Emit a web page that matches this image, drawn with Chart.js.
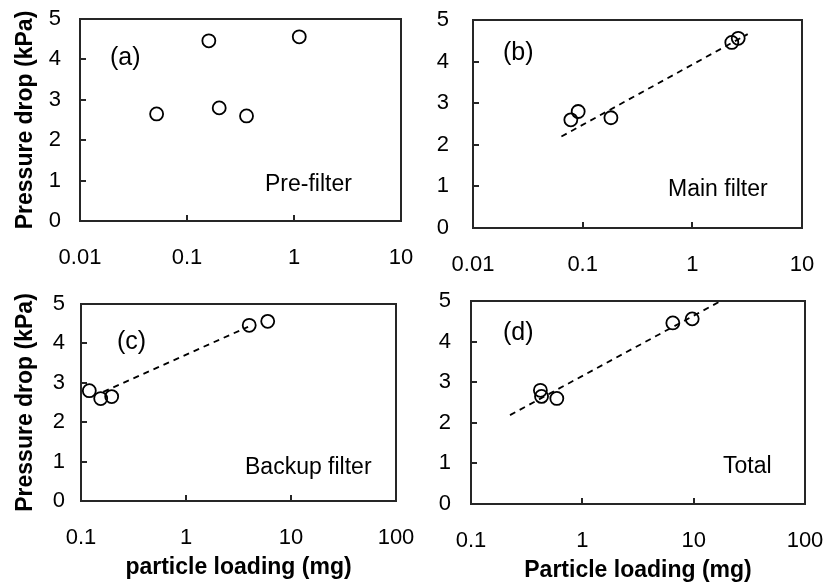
<!DOCTYPE html>
<html>
<head>
<meta charset="utf-8">
<script src="https://cdn.jsdelivr.net/npm/chart.js@4/dist/chart.umd.min.js"></script>
<style>
  html, body { margin: 0; background: #fff; }
  #wrap { position: relative; width: 825px; height: 585px; }
  #wrap canvas { position: absolute; left: 0; top: 0; }
</style>
</head>
<body>
<div id="wrap">
  <canvas id="panelA" width="825" height="585"></canvas>
  <canvas id="panelB" width="825" height="585"></canvas>
  <canvas id="panelC" width="825" height="585"></canvas>
  <canvas id="panelD" width="825" height="585"></canvas>
</div>
<script>
// Five runs, same order in every list
const pressureDrop = [2.65, 2.8, 2.6, 4.46, 4.56];      // kPa
const preLoading = [0.052, 0.2, 0.36, 0.16, 1.12];       // mg
const mainLoading = [0.181, 0.091, 0.078, 2.29, 2.62];
const backupLoading = [0.196, 0.12, 0.154, 4.0, 6.0];
const totalLoading = [0.43, 0.42, 0.59, 6.5, 9.7];

// Fitted trend lines (end points)
const mainFitLoading = [0.064, 3.2];
const mainFitPressure = [2.2, 4.66];
const backupFitLoading = [0.163, 3.9];
const backupFitPressure = [2.77, 4.42];
const totalFitLoading = [0.224, 17];
const totalFitPressure = [2.19, 4.98];

// Axis ticks
const pressureTicks = [0, 1, 2, 3, 4, 5];
const loadingTicksUpper = [0.01, 0.1, 1, 10];
const loadingTicksLower = [0.1, 1, 10, 100];

const FONT = "'Liberation Sans', Arial, sans-serif";
const W = 825, H = 585;

function pairs(xs, ys) {
  return xs.map((x, i) => ({ x: x, y: ys[i] }));
}

// labels may hang over the plot edges, so drop the extra room chart.js asks for
function noPadding(s) {
  s.paddingLeft = 0;
  s.paddingRight = 0;
  s.paddingTop = 0;
  s.paddingBottom = 0;
}

// box round the plot area plus the short ticks pointing inwards
const framePlugin = {
  id: "frame",
  afterDraw(chart) {
    const { ctx, chartArea: a, scales } = chart;
    ctx.save();
    ctx.strokeStyle = "#262626";
    ctx.lineWidth = 2;
    ctx.beginPath();
    scales.x.ticks.forEach(t => {
      const px = Math.round(scales.x.getPixelForValue(t.value));
      ctx.moveTo(px, a.bottom);
      ctx.lineTo(px, a.bottom - 6);
    });
    scales.y.ticks.forEach(t => {
      const py = Math.round(scales.y.getPixelForValue(t.value));
      ctx.moveTo(a.left, py);
      ctx.lineTo(a.left + 6, py);
    });
    ctx.stroke();
    ctx.strokeRect(a.left, a.top, a.right - a.left, a.bottom - a.top);
    ctx.restore();
  }
};

// panel letter and filter name
const notePlugin = {
  id: "notes",
  afterDraw(chart, args, opts) {
    const { ctx, chartArea: a } = chart;
    ctx.save();
    ctx.fillStyle = "#000";
    ctx.textBaseline = "middle";
    ctx.textAlign = "left";
    (opts.items || []).forEach(n => {
      ctx.font = n.size + "px " + FONT;
      ctx.fillText(n.text, a.left + n.dx, a.top + n.dy);
    });
    ctx.restore();
  }
};

function makePanel(id, p) {
  const datasets = [{
    data: pairs(p.loading, pressureDrop),
    pointStyle: "circle",
    pointRadius: 6.5,
    pointBorderWidth: 1.8,
    pointBorderColor: "#000",
    pointBackgroundColor: "rgba(0,0,0,0)"
  }];
  if (p.fitX) {
    datasets.push({
      data: pairs(p.fitX, p.fitY),
      showLine: true,
      borderColor: "#000",
      borderWidth: 1.8,
      borderDash: [6, 5],
      pointRadius: 0
    });
  }

  const pad = {
    left: p.area.l - p.yw,
    top: p.area.t,
    right: W - p.area.r,
    bottom: H - p.area.b - p.xh
  };

  new Chart(document.getElementById(id), {
    type: "scatter",
    data: { datasets: datasets },
    options: {
      responsive: false,
      animation: false,
      events: [],
      layout: { padding: pad },
      plugins: {
        legend: { display: false },
        tooltip: { enabled: false },
        notes: { items: p.notes }
      },
      scales: {
        x: {
          type: "logarithmic",
          min: p.xTicks[0],
          max: p.xTicks[p.xTicks.length - 1],
          afterBuildTicks: s => { s.ticks = p.xTicks.map(v => ({ value: v })); },
          afterFit: s => { s.height = p.xh; noPadding(s); },
          grid: { display: false, drawTicks: false },
          border: { display: false },
          ticks: {
            autoSkip: false,
            maxRotation: 0,
            padding: 24,
            color: "#000",
            font: { family: FONT, size: 22 },
            callback: v => String(v)
          },
          title: {
            display: !!p.xTitle,
            text: p.xTitle || "",
            color: "#000",
            padding: { top: 0, bottom: p.xTitlePad || 0 },
            font: { family: FONT, size: 23, weight: "bold" }
          }
        },
        y: {
          min: 0,
          max: 5,
          afterBuildTicks: s => { s.ticks = pressureTicks.map(v => ({ value: v })); },
          afterFit: s => { s.width = p.yw; noPadding(s); },
          grid: { display: false, drawTicks: false },
          border: { display: false },
          ticks: {
            padding: p.yPad,
            color: "#000",
            font: { family: FONT, size: 22 }
          },
          title: {
            display: !!p.yTitle,
            text: p.yTitle || "",
            color: "#000",
            padding: { top: 12, bottom: 0 },
            font: { family: FONT, size: 23, weight: "bold" }
          }
        }
      }
    },
    plugins: [framePlugin, notePlugin]
  });
}

makePanel("panelA", {
  loading: preLoading,
  xTicks: loadingTicksUpper,
  area: { l: 80, t: 19, r: 401, b: 221 },
  yw: 80, xh: 60, yPad: 19,
  yTitle: "Pressure drop (kPa)",
  notes: [
    { text: "(a)", size: 25, dx: 30, dy: 39 },
    { text: "Pre-filter", size: 23, dx: 185, dy: 166 }
  ]
});

makePanel("panelB", {
  loading: mainLoading,
  fitX: mainFitLoading, fitY: mainFitPressure,
  xTicks: loadingTicksUpper,
  area: { l: 473, t: 20, r: 802, b: 228 },
  yw: 60, xh: 60, yPad: 24,
  notes: [
    { text: "(b)", size: 25, dx: 30, dy: 33 },
    { text: "Main filter", size: 23, dx: 195, dy: 170 }
  ]
});

makePanel("panelC", {
  loading: backupLoading,
  fitX: backupFitLoading, fitY: backupFitPressure,
  xTicks: loadingTicksLower,
  area: { l: 81, t: 304, r: 396, b: 501 },
  yw: 81, xh: H - 501, yPad: 16,
  yTitle: "Pressure drop (kPa)",
  xTitle: "particle loading (mg)", xTitlePad: 4,
  notes: [
    { text: "(c)", size: 25, dx: 36, dy: 38 },
    { text: "Backup filter", size: 23, dx: 164, dy: 164 }
  ]
});

makePanel("panelD", {
  loading: totalLoading,
  fitX: totalFitLoading, fitY: totalFitPressure,
  xTicks: loadingTicksLower,
  area: { l: 471, t: 301, r: 805, b: 504 },
  yw: 60, xh: H - 504, yPad: 20,
  xTitle: "Particle loading (mg)", xTitlePad: 1,
  notes: [
    { text: "(d)", size: 25, dx: 32, dy: 32 },
    { text: "Total", size: 23, dx: 252, dy: 166 }
  ]
});
</script>
</body>
</html>
